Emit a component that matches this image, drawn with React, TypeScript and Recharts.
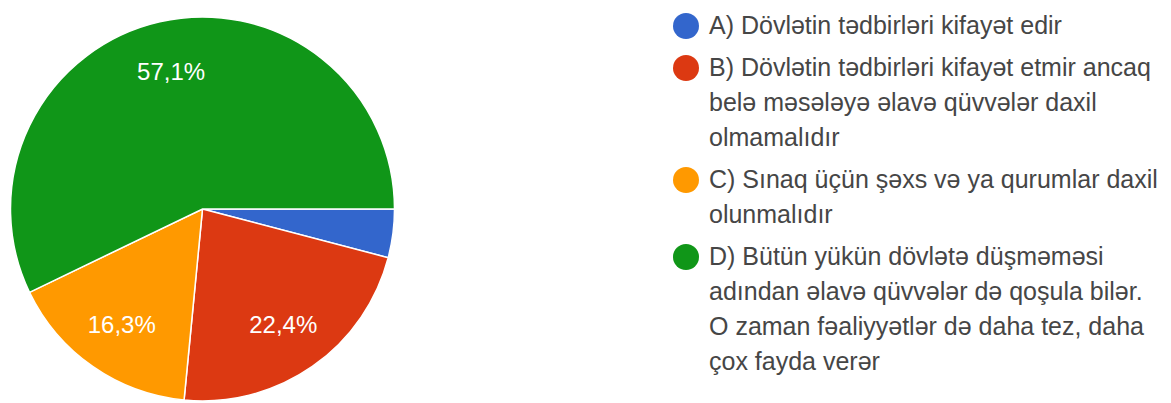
import { PieChart, Pie, Cell, Legend } from 'recharts';

const answers = [
  'A) Dövlətin tədbirləri kifayət edir',
  'B) Dövlətin tədbirləri kifayət etmir ancaq\nbelə məsələyə əlavə qüvvələr daxil\nolmamalıdır',
  'C) Sınaq üçün şəxs və ya qurumlar daxil\nolunmalıdır',
  'D) Bütün yükün dövlətə düşməməsi\nadından əlavə qüvvələr də qoşula bilər.\nO zaman fəaliyyətlər də daha tez, daha\nçox fayda verər',
];
const responses = [2, 11, 8, 28];
const sliceColors = ['#3366cc', '#dc3912', '#ff9900', '#109618'];

const RAD = Math.PI / 180;
const FONT = '"Liberation Sans", Arial, sans-serif';

const data = answers.map((name, i) => ({ name, value: responses[i] }));
const total = responses.reduce((a, b) => a + b, 0);

function SliceLabel({ cx, cy, midAngle, outerRadius, value }: any) {
  const r = outerRadius * 0.735;
  const x = cx + r * Math.cos(-midAngle * RAD);
  const y = cy + r * Math.sin(-midAngle * RAD);
  const pct = ((value / total) * 100).toFixed(1).replace('.', ',');
  // google hides labels on tiny slices
  if (value / total < 0.05) return null;
  return (
    <text
      x={x}
      y={y}
      fill="#ffffff"
      textAnchor="middle"
      dominantBaseline="central"
      style={{ fontFamily: FONT, fontSize: 24 }}
    >
      {pct}%
    </text>
  );
}

function ChoiceLegend({ payload }: any) {
  const items = (payload ?? []).length
    ? payload.map((p: any) => ({ label: String(p.value), color: p.color }))
    : answers.map((a, i) => ({ label: a, color: sliceColors[i] }));
  return (
    <div style={{ fontFamily: FONT, fontSize: 25, lineHeight: '35px', color: '#464646' }}>
      {items.map((it: any) => (
        <div key={it.label} style={{ position: 'relative', paddingLeft: 36, marginBottom: 7 }}>
          <span
            style={{
              position: 'absolute',
              left: 0,
              top: 4.5,
              width: 26,
              height: 26,
              borderRadius: 13,
              background: it.color,
            }}
          />
          <div style={{ whiteSpace: 'pre' }}>{it.label}</div>
        </div>
      ))}
    </div>
  );
}

export default function App() {
  return (
    <div style={{ position: 'absolute', left: 0, top: 0, width: 1171, height: 403, background: '#fff' }}>
      <PieChart width={1171} height={403} margin={{ top: 0, right: 0, bottom: 0, left: 0 }}>
        <Pie
          data={data}
          dataKey="value"
          nameKey="name"
          cx={202.5}
          cy={209}
          outerRadius={192}
          startAngle={0}
          endAngle={-360}
          stroke="#ffffff"
          strokeWidth={1.5}
          label={SliceLabel}
          labelLine={false}
          isAnimationActive={false}
        >
          {data.map((d, i) => (
            <Cell key={d.name} fill={sliceColors[i]} />
          ))}
        </Pie>
        <Legend
          layout="vertical"
          verticalAlign="top"
          align="right"
          content={<ChoiceLegend />}
          wrapperStyle={{ position: 'absolute', left: 673, top: 8, width: 498 }}
        />
      </PieChart>
    </div>
  );
}
